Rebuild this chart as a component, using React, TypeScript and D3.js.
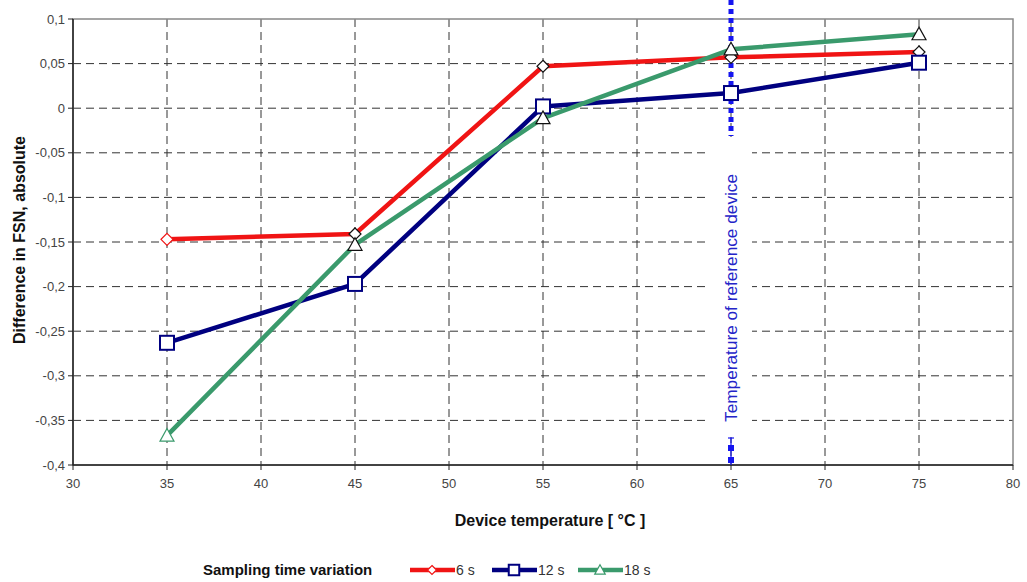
import React from "react";
import * as d3 from "d3";

const W = 1027;
const H = 582;

// temperatures (°C)
const temps = [35, 45, 55, 65, 75];
const xTicks = [30, 35, 40, 45, 50, 55, 60, 65, 70, 75, 80];
const yTicks = [0.1, 0.05, 0, -0.05, -0.1, -0.15, -0.2, -0.25, -0.3, -0.35, -0.4];

const s6 = [-0.147, -0.141, 0.047, 0.057, 0.063];
const s12 = [-0.263, -0.197, 0.002, 0.017, 0.051];
const s18 = [-0.367, -0.153, -0.011, 0.066, 0.083];

const refTemp = 65;

const series = [
  { name: "6 s", values: s6, color: "#f01414", marker: "diamond" },
  { name: "12 s", values: s12, color: "#000080", marker: "square" },
  { name: "18 s", values: s18, color: "#3a9a6c", marker: "triangle" },
];

const M = { left: 73, right: 1013, top: 19, bottom: 465 };

const x = d3.scaleLinear().domain([30, 80]).range([M.left, M.right]);
const y = d3.scaleLinear().domain([-0.4, 0.1]).range([M.bottom, M.top]);

const fmt = (v: number) => {
  const r = Math.round(v * 100) / 100;
  return String(r).replace(".", ",");
};

const Marker = ({ kind, cx, cy, stroke, k = 1 }: { kind: string; cx: number; cy: number; stroke: string; k?: number }) => {
  if (kind === "diamond") {
    const s = 6 * k;
    return (
      <path
        d={`M${cx},${cy - s}L${cx + s},${cy}L${cx},${cy + s}L${cx - s},${cy}Z`}
        fill="#fff"
        stroke={stroke}
        strokeWidth={1.2}
      />
    );
  }
  if (kind === "square") {
    const s = 7 * k;
    return <rect x={cx - s} y={cy - s} width={2 * s} height={2 * s} fill="#fff" stroke={stroke} strokeWidth={2} />;
  }
  const s = 7 * k;
  return (
    <path
      d={`M${cx},${cy - s}L${cx + s},${cy + s * 0.8}L${cx - s},${cy + s * 0.8}Z`}
      fill="#fff"
      stroke={stroke}
      strokeWidth={1.2}
    />
  );
};

export default function App() {
  const line = d3
    .line<number>()
    .x((_, i) => x(temps[i]))
    .y((d) => y(d));

  const font = "'Liberation Sans', Arial, sans-serif";
  const rx = x(refTemp);

  return (
    <svg width={W} height={H} style={{ position: "absolute", left: 0, top: 0, background: "#fff" }} fontFamily={font}>
      {/* grid */}
      {xTicks.slice(1, -1).map((t) => (
        <line key={"gx" + t} x1={x(t)} x2={x(t)} y1={M.top} y2={M.bottom} stroke="#333" strokeDasharray="8,5" />
      ))}
      {yTicks.slice(1, -1).map((t) => (
        <line key={"gy" + t} x1={M.left} x2={M.right} y1={y(t)} y2={y(t)} stroke="#333" strokeDasharray="8,5" />
      ))}
      <rect x={M.left} y={M.top} width={M.right - M.left} height={M.bottom - M.top} fill="none" stroke="#888" strokeWidth={1.5} />
      <line x1={M.left} x2={M.left} y1={M.top} y2={M.bottom} stroke="#222" strokeWidth={1.5} />
      <line x1={M.left} x2={M.right} y1={M.bottom} y2={M.bottom} stroke="#222" strokeWidth={1.5} />

      {/* ticks */}
      {yTicks.map((t) => (
        <g key={"ty" + t}>
          <line x1={M.left - 5} x2={M.left} y1={y(t)} y2={y(t)} stroke="#222" />
          <text x={M.left - 8} y={y(t)} dy="0.35em" textAnchor="end" fontSize={13} fill="#444">
            {fmt(t)}
          </text>
        </g>
      ))}
      {xTicks.map((t) => (
        <g key={"tx" + t}>
          <line x1={x(t)} x2={x(t)} y1={M.bottom} y2={M.bottom + 5} stroke="#222" />
          <text x={x(t)} y={M.bottom + 23} textAnchor="middle" fontSize={13} fill="#444">
            {t}
          </text>
        </g>
      ))}

      {/* reference line with label box */}
      <line x1={rx} x2={rx} y1={0} y2={136} stroke="#1515f0" strokeWidth={5} strokeDasharray="5,4" />
      <rect x={rx - 24} y={137} width={45} height={300} fill="#fff" />
      <text
        transform={`translate(${rx + 6},${298}) rotate(-90)`}
        textAnchor="middle"
        fontSize={16}
        textLength={248}
        lengthAdjust="spacingAndGlyphs"
        fill="#2424c8"
      >
        Temperature of reference device
      </text>
      <line x1={rx - 3} x2={rx + 3} y1={438} y2={438} stroke="#1515f0" strokeWidth={1.2} />
      <line x1={rx} x2={rx} y1={438} y2={M.bottom} stroke="#1515f0" strokeWidth={1.2} />
      <rect x={rx - 3} y={445} width={6} height={6} fill="#1515f0" />
      <rect x={rx - 3} y={457} width={6} height={6} fill="#1515f0" />

      {/* series */}
      {series.map((s) => (
        <path key={s.name} d={line(s.values) || ""} fill="none" stroke={s.color} strokeWidth={4.5} strokeLinejoin="round" />
      ))}
      {series.map((s) =>
        s.values.map((v, i) => (
          <Marker
            key={s.name + i}
            kind={s.marker}
            cx={x(temps[i])}
            cy={y(v)}
            stroke={s.marker === "square" ? s.color : i === 0 ? s.color : "#111"}
          />
        ))
      )}

      {/* axis titles */}
      <text x={(M.left + M.right) / 2 + 7} y={526} textAnchor="middle" fontSize={16} fontWeight="bold" fill="#111">
        Device temperature [ °C ]
      </text>
      <text transform={`translate(25,${(M.top + M.bottom) / 2 - 2}) rotate(-90)`} textAnchor="middle" fontSize={16} fontWeight="bold" fill="#111">
        Difference in FSN, absolute
      </text>

      {/* legend */}
      <text x={203} y={575} fontSize={15} fontWeight="bold" fill="#111">
        Sampling time variation
      </text>
      {series.map((s, i) => {
        const lx = [410, 492, 578][i];
        const cy = 570;
        return (
          <g key={"lg" + s.name}>
            <line x1={lx} x2={lx + 45} y1={cy} y2={cy} stroke={s.color} strokeWidth={4.5} />
            <Marker kind={s.marker} cx={lx + 22} cy={cy} stroke={s.color} k={0.75} />
            <text x={lx + 46} y={cy + 5} fontSize={14} fill="#333">
              {s.name}
            </text>
          </g>
        );
      })}
    </svg>
  );
}
